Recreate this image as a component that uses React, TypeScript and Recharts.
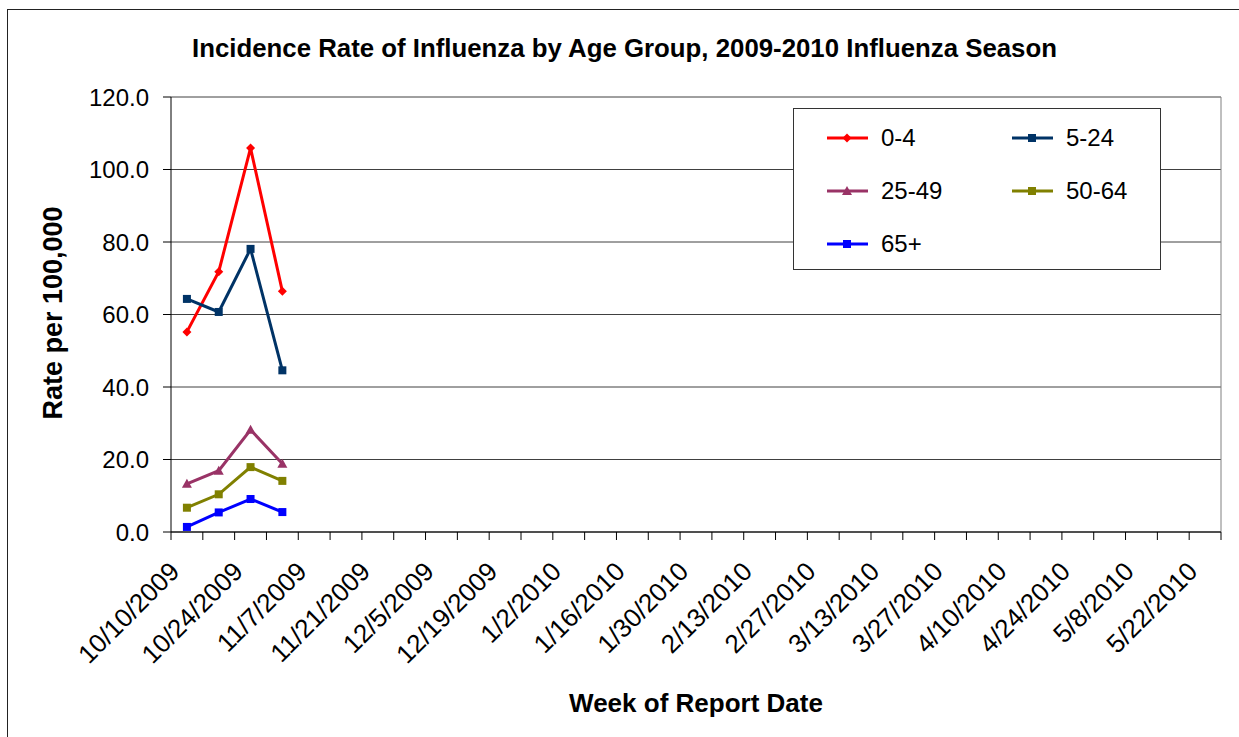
import React from 'react';
import { LineChart, Line, XAxis, YAxis, CartesianGrid, ReferenceLine } from 'recharts';

const weeks = [
  '10/10/2009', '10/17/2009', '10/24/2009', '10/31/2009', '11/7/2009', '11/14/2009',
  '11/21/2009', '11/28/2009', '12/5/2009', '12/12/2009', '12/19/2009', '12/26/2009',
  '1/2/2010', '1/9/2010', '1/16/2010', '1/23/2010', '1/30/2010', '2/6/2010',
  '2/13/2010', '2/20/2010', '2/27/2010', '3/6/2010', '3/13/2010', '3/20/2010',
  '3/27/2010', '4/3/2010', '4/10/2010', '4/17/2010', '4/24/2010', '5/1/2010',
  '5/8/2010', '5/15/2010', '5/22/2010',
];

const age0to4 = [55.2, 71.8, 105.9, 66.4];
const age5to24 = [64.3, 60.7, 78.1, 44.6];
const age25to49 = [13.3, 16.9, 28.2, 18.8];
const age50to64 = [6.7, 10.4, 17.9, 14.1];
const age65plus = [1.4, 5.4, 9.1, 5.5];

const yTicks = [0, 20, 40, 60, 80, 100, 120];

const series = [
  { key: 'a', name: '0-4', color: '#FF0000', shape: 'diamond', values: age0to4 },
  { key: 'b', name: '5-24', color: '#003366', shape: 'square', values: age5to24 },
  { key: 'c', name: '25-49', color: '#993366', shape: 'triangle', values: age25to49 },
  { key: 'd', name: '50-64', color: '#808000', shape: 'square', values: age50to64 },
  { key: 'e', name: '65+', color: '#0000FF', shape: 'square', values: age65plus },
];

const data = age0to4.map((_, i) => {
  const row: any = { x: i + 0.5, week: weeks[i] };
  series.forEach((s) => { row[s.key] = s.values[i]; });
  return row;
});

// tick marks sit on week boundaries, labels on every other week centre
const xTicks: number[] = [];
for (let k = 0; k <= weeks.length; k++) {
  xTicks.push(k);
  if (k < weeks.length && k % 2 === 0) xTicks.push(k + 0.5);
}

const font = '"Liberation Sans", Arial, sans-serif';

const Marker = ({ cx, cy, shape, color }: any) => {
  if (cx == null || cy == null) return null;
  if (shape === 'diamond') {
    return <polygon points={`${cx},${cy - 4.5} ${cx + 4.5},${cy} ${cx},${cy + 4.5} ${cx - 4.5},${cy}`} fill={color} />;
  }
  if (shape === 'triangle') {
    return <polygon points={`${cx},${cy - 5} ${cx + 5},${cy + 4} ${cx - 5},${cy + 4}`} fill={color} />;
  }
  return <rect x={cx - 4} y={cy - 4} width={8} height={8} fill={color} />;
};

const XTick = (props: any) => {
  const { x, y, payload } = props;
  const v = payload.value;
  if (Number.isInteger(v)) {
    return <line x1={x} y1={y} x2={x} y2={y + 8} stroke="#000" />;
  }
  const tx = x - 6;
  const ty = y + 41;
  return (
    <text x={tx} y={ty} transform={`rotate(-45 ${tx} ${ty})`} textAnchor="end"
      fontSize={26} fontFamily={font} fill="#000">
      {weeks[Math.floor(v)]}
    </text>
  );
};

const LegendBox = () => (
  <div style={{
    position: 'absolute', left: 793, top: 108, width: 368, height: 162, border: '1px solid #333',
    boxSizing: 'border-box', background: '#fff', fontFamily: font, fontSize: 24, color: '#000',
  }}>
    {series.map((s, i) => {
      const col = i % 2;
      const row = Math.floor(i / 2);
      return (
        <div key={s.key} style={{ position: 'absolute', left: 32 + col * 185, top: 15 + row * 53, height: 28, display: 'flex', alignItems: 'center' }}>
          <svg width={43} height={20}>
            <line x1={1} y1={10} x2={42} y2={10} stroke={s.color} strokeWidth={3} />
            <Marker cx={21} cy={10} shape={s.shape} color={s.color} />
          </svg>
          <span style={{ marginLeft: 12, lineHeight: '28px' }}>{s.name}</span>
        </div>
      );
    })}
  </div>
);

export default function App() {
  return (
    <div style={{ position: 'absolute', left: 0, top: 0, width: 1239, height: 737, overflow: 'hidden', background: '#fff' }}>
      <div style={{ position: 'absolute', left: 7, top: 9, width: 1240, height: 740, border: '1px solid #222' }} />
      <div style={{ position: 'absolute', left: 0, top: 0 }}>
        <LineChart width={1239} height={737} data={data} margin={{ top: 97, right: 18, bottom: 0, left: 0 }}>
          <CartesianGrid vertical={false} stroke="#404040" strokeWidth={1} />
          <XAxis type="number" dataKey="x" domain={[0, weeks.length]} ticks={xTicks} interval={0}
            tick={<XTick />} tickLine={false} tickSize={0} tickMargin={0} height={205}
            axisLine={{ stroke: '#000' }} allowDecimals />
          <YAxis domain={[0, 120]} ticks={yTicks} width={171} tickSize={8} tickMargin={14}
            tickFormatter={(v: number) => v.toFixed(1)} axisLine={{ stroke: '#000' }} tickLine={{ stroke: '#000' }}
            tick={{ fontSize: 24, fontFamily: font, fill: '#000' }} />
          <ReferenceLine x={weeks.length} stroke="#808080" />
          {series.map((s) => (
            <Line key={s.key} dataKey={s.key} name={s.name} stroke={s.color} strokeWidth={3}
              isAnimationActive={false} type="linear"
              dot={(p: any) => <Marker key={`${s.key}-${p.index}`} cx={p.cx} cy={p.cy} shape={s.shape} color={s.color} />}
              activeDot={false} />
          ))}
        </LineChart>
      </div>
      <LegendBox />
      <div style={{ position: 'absolute', left: 0, top: 34, width: 1249, textAlign: 'center', fontFamily: font, fontWeight: 'bold', fontSize: 25.8 }}>
        Incidence Rate of Influenza by Age Group, 2009-2010 Influenza Season
      </div>
      <div style={{ position: 'absolute', left: 53, top: 313, transform: 'translate(-50%, -50%) rotate(-90deg)', whiteSpace: 'nowrap', fontFamily: font, fontWeight: 'bold', fontSize: 27 }}>
        Rate per 100,000
      </div>
      <div style={{ position: 'absolute', left: 0, top: 688, width: 1392, textAlign: 'center', fontFamily: font, fontWeight: 'bold', fontSize: 26 }}>
        Week of Report Date
      </div>
    </div>
  );
}
